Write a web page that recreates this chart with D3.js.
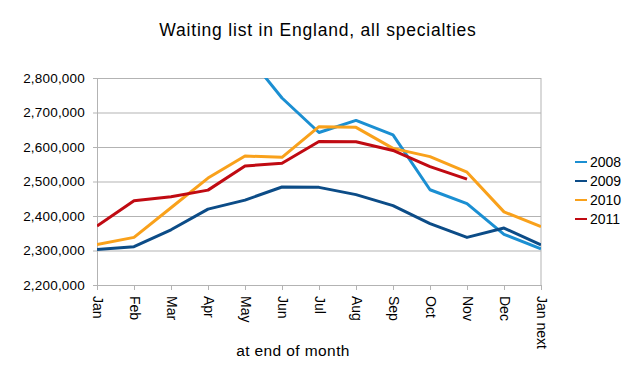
<!DOCTYPE html>
<html>
<head>
<meta charset="utf-8">
<script src="https://cdn.jsdelivr.net/npm/d3@7"></script>
<style>
  body { margin: 0; background: #fff; }
  svg { font-family: "Liberation Sans", Arial, sans-serif; }
  .grid line { stroke: #b3b3b3; }
  .grid .domain { display: none; }
  .axis path, .axis line { stroke: #b3b3b3; }
  .axis text { fill: #000; }
</style>
</head>
<body>
<svg width="639" height="384"></svg>
<script>
// months on the x axis
const months = ['Jan', 'Feb', 'Mar', 'Apr', 'May', 'Jun', 'Jul', 'Aug', 'Sep', 'Oct', 'Nov', 'Dec', 'Jan next'];

// waiting list size at end of month
const y2008 = [null, null, null, null, 2875000, 2742000, 2642000, 2677000, 2635000, 2476000, 2436000, 2347000, 2305000];
const y2009 = [2303000, 2311000, 2360000, 2420000, 2446000, 2484000, 2483000, 2462000, 2430000, 2378000, 2338000, 2365000, 2316000];
const y2010 = [2317000, 2338000, 2424000, 2510000, 2574000, 2570000, 2659000, 2657000, 2596000, 2572000, 2527000, 2412000, 2369000];
const y2011 = [2371000, 2444000, 2456000, 2475000, 2545000, 2553000, 2616000, 2615000, 2590000, 2543000, 2507000, null, null];

const yTicks = [2200000, 2300000, 2400000, 2500000, 2600000, 2700000, 2800000];

const series = [
  { name: '2008', values: y2008, color: '#1b8fd2' },
  { name: '2009', values: y2009, color: '#0c4c87' },
  { name: '2010', values: y2010, color: '#f9a11b' },
  { name: '2011', values: y2011, color: '#c00a12' }
];

const svg = d3.select('svg');
const plotL = 97, plotR = 541, plotT = 78, plotB = 285;

const xScale = d3.scalePoint()
  .domain(months)
  .range([plotL, plotR]);

const yScale = d3.scaleLinear()
  .domain([2200000, 2800000])
  .range([plotB, plotT]);

// gridlines
svg.append('g')
  .attr('class', 'grid')
  .attr('transform', `translate(${plotL}, 0)`)
  .call(d3.axisLeft(yScale)
    .tickValues(yTicks)
    .tickSize(-(plotR - plotL))
    .tickFormat('')
  );

// right border
svg.append('line')
  .attr('x1', plotR).attr('x2', plotR)
  .attr('y1', plotT).attr('y2', plotB)
  .attr('stroke', '#b3b3b3');

const fmt = d3.format(',');

svg.append('g')
  .attr('class', 'axis')
  .attr('transform', `translate(${plotL}, 0)`)
  .call(d3.axisLeft(yScale).tickValues(yTicks).tickSize(4).tickSizeOuter(0).tickPadding(8).tickFormat(fmt))
  .call(g => g.selectAll('text')
    .attr('font-size', 13.5)
    .attr('letter-spacing', 0.2)
    .attr('font-family', '"Liberation Sans", Arial, sans-serif'));

svg.append('g')
  .attr('class', 'axis')
  .attr('transform', `translate(0, ${plotB})`)
  .call(d3.axisBottom(xScale).tickSize(5).tickSizeOuter(0))
  .call(g => g.selectAll('text')
    .attr('font-size', 14)
    .attr('font-family', '"Liberation Sans", Arial, sans-serif')
    .attr('text-anchor', 'start')
    .attr('dy', null)
    .attr('y', 0)
    .attr('transform', 'translate(-5, 11) rotate(90)'));

svg.append('clipPath')
  .attr('id', 'plot')
  .append('rect')
  .attr('x', plotL).attr('y', plotT)
  .attr('width', plotR - plotL).attr('height', plotB - plotT);

const line = d3.line()
  .defined(d => d != null)
  .x((d, i) => xScale(months[i]))
  .y(d => yScale(d));

svg.append('g')
  .attr('clip-path', 'url(#plot)')
  .selectAll('path')
  .data(series)
  .enter()
  .append('path')
  .attr('fill', 'none')
  .attr('stroke', s => s.color)
  .attr('stroke-width', 3)
  .attr('stroke-linejoin', 'round')
  .attr('d', s => line(s.values));

// legend
const legend = svg.append('g')
  .selectAll('g')
  .data(series)
  .enter()
  .append('g')
  .attr('transform', (s, i) => `translate(575, ${162 + i * 19})`);

legend.append('line')
  .attr('x1', 0).attr('x2', 12)
  .attr('stroke', s => s.color)
  .attr('stroke-width', 2);

legend.append('text')
  .attr('x', 15)
  .attr('dy', '0.35em')
  .attr('font-size', 14)
  .text(s => s.name);

svg.append('text')
  .attr('x', 318)
  .attr('y', 36)
  .attr('text-anchor', 'middle')
  .attr('font-size', 17.5)
  .attr('letter-spacing', 0.8)
  .text('Waiting list in England, all specialties');

svg.append('text')
  .attr('x', 293)
  .attr('y', 356)
  .attr('text-anchor', 'middle')
  .attr('font-size', 15.5)
  .attr('letter-spacing', 0.4)
  .text('at end of month');
</script>
</body>
</html>
